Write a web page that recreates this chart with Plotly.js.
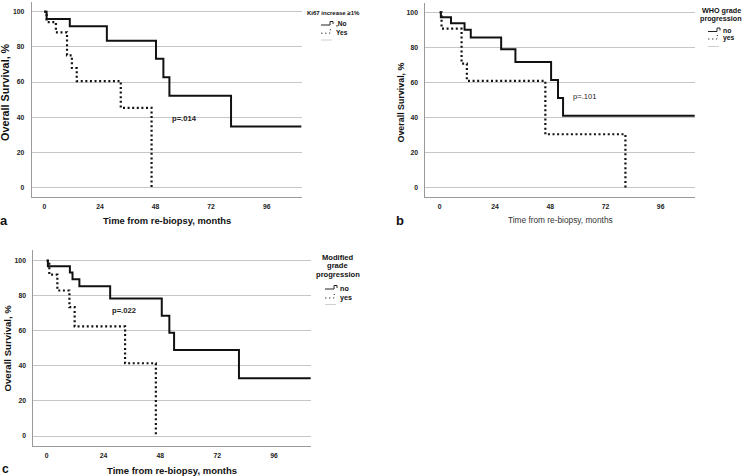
<!DOCTYPE html>
<html><head><meta charset="utf-8">
<script src="https://cdn.plot.ly/plotly-3.0.1.min.js"></script>
<style>html,body{margin:0;padding:0;background:#fff}#chart{width:744px;height:476px}</style>
</head><body><div id="chart"></div>
<script>
// ---------- data ----------
const timeTicks = [0, 24, 48, 72, 96];
const survTicks = [0, 20, 40, 60, 80, 100];

// Panel a: Ki67 increase >=1%
const aNoTime  = [0, 1, 11, 27, 48.2, 51.4, 54, 80.6, 111];
const aNoSurv  = [100, 95.8, 91.7, 83.5, 73.2, 62.8, 52.3, 34.8, 34.8];
const aYesTime = [0, 1, 5, 9.8, 11.9, 14, 33, 46.3];
const aYesSurv = [100, 94.1, 88.3, 75.2, 68, 60.6, 45.4, 0];

// Panel b: WHO grade progression
const bNoTime  = [0, 0.5, 4.9, 10.8, 13.5, 26.7, 32.9, 48.4, 51.4, 53.6, 111];
const bNoSurv  = [100, 97.3, 93.9, 90.1, 85.7, 79, 71.8, 61.5, 51.2, 41, 41];
const bYesTime = [0, 0.8, 9.5, 11.8, 45.9, 80.7];
const bYesSurv = [100, 90.8, 70.8, 61, 30.5, 0];

// Panel c: Modified grade progression
const cNoTime  = [0, 0.5, 9.8, 10.9, 13.8, 26.8, 48.6, 51.8, 53.8, 81.2, 112];
const cNoSurv  = [100, 96.8, 93.2, 89.4, 85.4, 78.5, 68.6, 58.9, 49, 32.9, 32.9];
const cYesTime = [0, 1.1, 4.5, 9.6, 11.8, 33.1, 46.1];
const cYesSurv = [100, 92, 83, 73.5, 62.5, 41.5, 0];

const pValues = ['p=.014', 'p=.101', 'p=.022'];
const pPos = [[60.7, 39.6], [63.1, 52], [32.8, 71.5]];
const groupLabelsA = [',No', 'Yes'];
const groupLabelsBC = ['no', 'yes'];

// ---------- helpers ----------
const W = 744, H = 476;
const X = px => px / W;
const Y = py => 1 - py / H;
const fam = 'Liberation Sans, Arial, sans-serif';

function km(t, s, xa, ya, dotted, name) {
  return {
    type: 'scatter', mode: 'lines', x: t, y: s, xaxis: xa, yaxis: ya, name: name,
    line: {shape: 'hv', color: '#111', width: dotted ? 2.2 : 2, dash: dotted ? '2px,2.6px' : 'solid'},
    showlegend: false, hoverinfo: 'skip'
  };
}

const data = [
  km(aNoTime, aNoSurv, 'x', 'y', false, 'No'),
  km(aYesTime, aYesSurv, 'x', 'y', true, 'Yes'),
  km(bNoTime, bNoSurv, 'x2', 'y2', false, 'no'),
  km(bYesTime, bYesSurv, 'x2', 'y2', true, 'yes'),
  km(cNoTime, cNoSurv, 'x3', 'y3', false, 'no'),
  km(cYesTime, cYesSurv, 'x3', 'y3', true, 'yes')
];

function xax(d0, d1, r0, r1, anchor) {
  return {
    domain: [X(d0), X(d1)], range: [r0, r1], anchor: anchor,
    tickvals: timeTicks, ticktext: timeTicks.map(String),
    showgrid: false, zeroline: false, showline: true, linecolor: '#9a9a9a', linewidth: 1,
    ticks: 'outside', ticklen: 3, tickcolor: 'rgba(0,0,0,0)',
    tickfont: {family: fam, size: 6.8, color: '#222', weight: 'bold'}, fixedrange: true
  };
}
function yax(top, bot, r0, r1, anchor) {
  return {
    domain: [Y(bot), Y(top)], range: [r0, r1], anchor: anchor,
    tickvals: survTicks, ticktext: survTicks.map(String),
    showgrid: true, gridcolor: '#c6c6c6', gridwidth: 1, zeroline: false,
    showline: true, linecolor: '#9a9a9a', linewidth: 1,
    ticks: 'outside', ticklen: 5, tickcolor: 'rgba(0,0,0,0)',
    tickfont: {family: fam, size: 6.8, color: '#222', weight: 'bold'}, fixedrange: true
  };
}

const ann = [];
function txt(text, px, py, size, weight, opts) {
  ann.push(Object.assign({
    text: text, xref: 'paper', yref: 'paper', x: X(px), y: Y(py),
    xanchor: 'center', yanchor: 'middle', showarrow: false,
    font: {family: fam, size: size, color: '#111', weight: weight}
  }, opts || {}));
}
// axis titles
txt('Overall Survival, %', 5.5, 92.5, 10.8, 'bold', {textangle: -90});
txt('Time from re-biopsy, months', 166.5, 220.5, 9.4, 'bold');
txt('Overall Survival, %', 400.5, 103, 8.9, 'bold', {textangle: -90});
txt('Time from re-biopsy, months', 560.5, 220.3, 8.3, 'normal', {font: {family: fam, size: 8.3, color: '#333'}});
txt('Overall Survival, %', 6.5, 348, 9.6, 'bold', {textangle: -90});
txt('Time from re-biopsy, months', 171.7, 470, 9.5, 'bold');
// panel labels
txt('a', 3.6, 220.5, 13, 'bold');
txt('b', 400, 220.5, 13, 'bold');
txt('c', 5, 469, 12, 'bold');
// p values (data coords)
['x', 'x2', 'x3'].forEach((xr, i) => {
  ann.push({text: pValues[i], xref: xr, yref: xr.replace('x', 'y'), x: pPos[i][0], y: pPos[i][1],
    showarrow: false, xanchor: 'center', yanchor: 'middle',
    font: {family: fam, size: 7.6, color: '#222', weight: i === 1 ? 'normal' : 'bold'}});
});

// legends (custom, SPSS style)
const shapes = [];
function legendBlock(titleLines, titleX, titleYs, titleSize, iconX, rowYs, labels, labelSize) {
  titleLines.forEach((t, i) => txt(t, titleX, titleYs[i], titleSize, 'bold'));
  const x0 = iconX, x1 = iconX + 9, x2 = iconX + 12;
  const y0 = rowYs[0];
  shapes.push({type: 'path', xref: 'paper', yref: 'paper',
    path: `M ${X(x0)},${Y(y0 + 1)} L ${X(x1)},${Y(y0 + 1)} L ${X(x1)},${Y(y0 - 2.5)} L ${X(x2)},${Y(y0 - 2.5)} L ${X(x2)},${Y(y0)}`,
    line: {color: '#222', width: 1}});
  const y1 = rowYs[1];
  shapes.push({type: 'path', xref: 'paper', yref: 'paper',
    path: `M ${X(x0)},${Y(y1 + 1)} L ${X(x1)},${Y(y1 + 1)} L ${X(x1)},${Y(y1 - 2.5)} L ${X(x2)},${Y(y1 - 2.5)}`,
    line: {color: '#444', width: 1, dash: '1.5px,2.5px'}});
  const y2 = rowYs[2];
  shapes.push({type: 'line', xref: 'paper', yref: 'paper', x0: X(x0), x1: X(x2 - 1), y0: Y(y2), y1: Y(y2),
    line: {color: '#cfcfcf', width: 1}});
  labels.forEach((l, i) => txt(l, x2 + 1, rowYs[i], labelSize, 'bold', {xanchor: 'left'}));
}
legendBlock(['Ki67 increase ≥1%'], 333.3, [13.3], 6, 321, [24, 32.2, 40], groupLabelsA, 6.6);
legendBlock(['WHO grade', 'progression'], 721, [10.2, 18.2], 7.2, 708, [30.5, 38, 46.5], groupLabelsBC, 6.8);
legendBlock(['Modified', 'grade', 'progression'], 337.6, [257.8, 265.9, 274.2], 7.6, 325, [288, 297, 304.5], groupLabelsBC, 7.2);

const layout = {
  width: W, height: H, margin: {l: 0, r: 0, t: 0, b: 0},
  paper_bgcolor: '#fff', plot_bgcolor: '#fff', showlegend: false,
  xaxis: xax(31.7, 301.7, -5.44, 111.1, 'y'),
  yaxis: yax(2, 197, -5.28, 105.5, 'x'),
  xaxis2: xax(425.3, 694.7, -6.26, 110.8, 'y2'),
  yaxis2: yax(3, 197, -5.31, 105.4, 'x2'),
  xaxis3: xax(33.3, 310.7, -5.66, 111.5, 'y3'),
  yaxis3: yax(250, 446, -5.7, 106.1, 'x3'),
  annotations: ann, shapes: shapes
};

Plotly.newPlot('chart', data, layout, {displayModeBar: false, staticPlot: true});
</script>
</body></html>
